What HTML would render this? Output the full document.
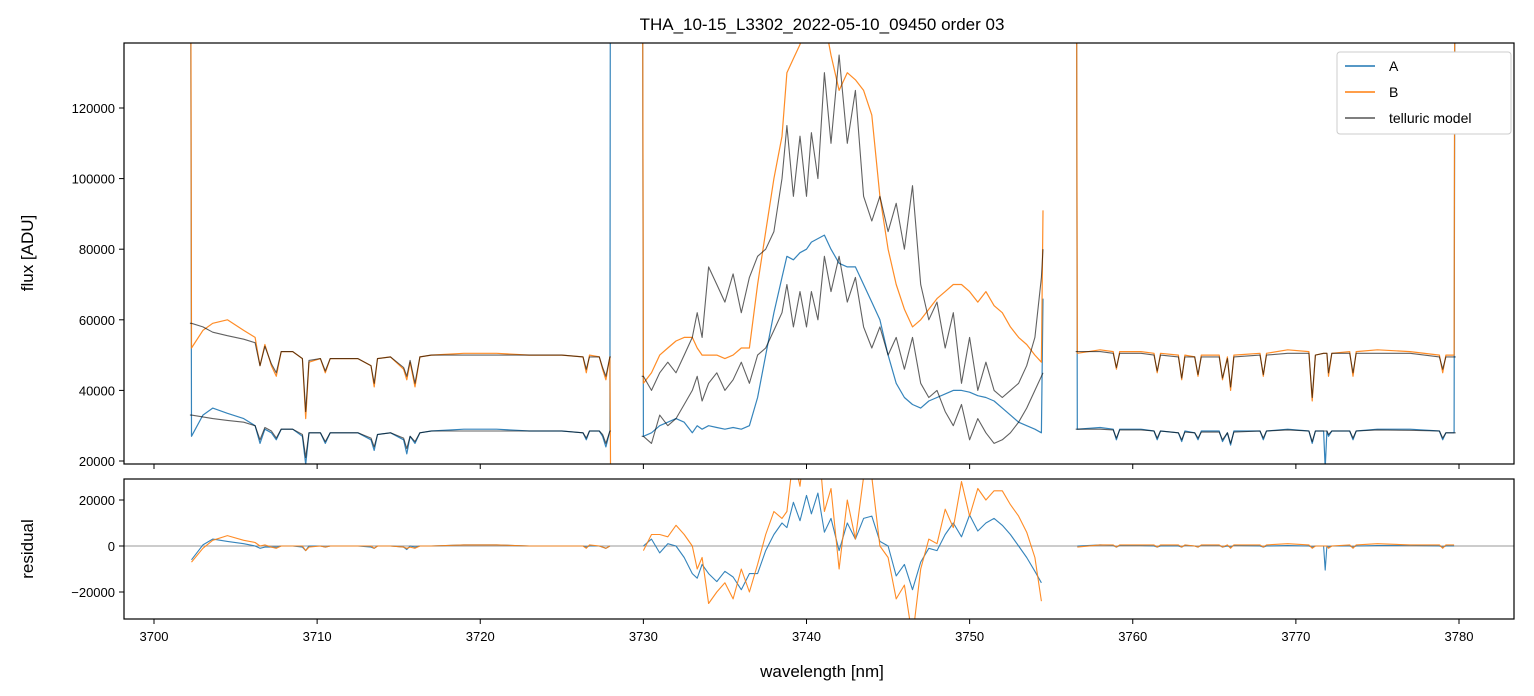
<!DOCTYPE html>
<html><head><meta charset="utf-8">
<style>
html,body{margin:0;padding:0;background:#fff;}
svg{display:block;font-family:"Liberation Sans","DejaVu Sans",sans-serif;}
</style></head>
<body>
<svg id="chart" width="1534" height="696" viewBox="0 0 1534 696" xmlns="http://www.w3.org/2000/svg">
<defs>
<clipPath id="clipTop"><rect x="124" y="43" width="1390" height="421"/></clipPath>
<clipPath id="clipBot"><rect x="124" y="479" width="1390" height="140"/></clipPath>
</defs>
<rect width="1534" height="696" fill="#fff"/>
<text x="822" y="30" font-size="17" text-anchor="middle">THA_10-15_L3302_2022-05-10_09450  order 03</text>
<g id="topPlot" clip-path="url(#clipTop)"></g>
<g id="botPlot" clip-path="url(#clipBot)"></g>
<rect x="124" y="43" width="1390" height="421" fill="none" stroke="#000" stroke-width="1.2"/>
<rect x="124" y="479" width="1390" height="140" fill="none" stroke="#000" stroke-width="1.2"/>
<g id="axes"></g>
<text x="822" y="677" font-size="17" text-anchor="middle">wavelength [nm]</text>
<text transform="translate(33,253) rotate(-90)" font-size="17" text-anchor="middle">flux [ADU]</text>
<text transform="translate(33,549) rotate(-90)" font-size="17" text-anchor="middle">residual</text>
<g>
<rect x="1337" y="52" width="174" height="82" fill="#fff" stroke="#ccc" rx="3"/>
<line x1="1345" y1="66" x2="1375" y2="66" stroke="#1f77b4" stroke-width="1.5"/>
<text x="1389" y="71" font-size="14">A</text>
<line x1="1345" y1="92" x2="1375" y2="92" stroke="#ff7f0e" stroke-width="1.5"/>
<text x="1389" y="97" font-size="14">B</text>
<line x1="1345" y1="118" x2="1375" y2="118" stroke="#555" stroke-width="1.5"/>
<text x="1389" y="123" font-size="14">telluric model</text>
</g>
</svg>
<script>
const seg1W = [3702.2,3702.3,3703,3703.6,3704.5,3705.5,3706.2,3706.5,3706.8,3707.2,3707.5,3707.8,3708.5,3709.1,3709.3,3709.5,3710.2,3710.5,3710.8,3711.5,3712.5,3713.3,3713.5,3713.7,3714.5,3715.3,3715.5,3715.7,3716,3716.3,3717,3719,3721,3723,3725,3726.3,3726.5,3726.7,3727.3,3727.5,3727.7,3727.95,3728];
const seg1A = [300000,27000,33000,35000,33500,32000,30000,25000,29000,28000,26000,29000,29000,27000,19000,28000,28000,25000,28000,28000,28000,26000,23000,27500,28000,26000,22000,27000,25000,28000,28500,29000,29000,28500,28500,28000,26000,28500,28500,27000,24000,28500,300000];
const seg1B = [300000,52000,57000,59000,60000,57000,55000,47000,53000,47000,44000,51000,51000,49000,32000,48000,49000,45000,49000,49000,49000,47000,41000,49000,49500,46000,43000,48000,41000,49500,50000,50500,50500,50000,50000,49500,45000,50000,49500,46000,43000,49500,5000];
const seg1MA = [33000,33000,32500,32000,31500,31000,30000,26000,29500,28500,26500,29000,29000,27500,21000,28000,28000,25500,28000,28000,28000,26500,24000,27500,28000,26500,23500,27000,25500,28000,28500,28500,28500,28500,28500,28000,26500,28500,28500,27500,25000,28500,28500];
const seg1MB = [59000,59000,58000,56500,55500,54500,53500,47000,52500,47500,45000,51000,51000,49000,34000,48500,49000,45500,49000,49000,49000,47000,42000,49000,49500,46500,44000,48500,42000,49500,50000,50000,50000,50000,50000,49500,46000,49500,49500,46500,44000,49500,49500];

const seg2W = [3729.9,3730,3730.5,3731,3731.5,3732,3732.5,3733,3733.3,3733.6,3734,3734.5,3735,3735.5,3736,3736.5,3737,3737.5,3738,3738.5,3738.8,3739.2,3739.6,3740,3740.3,3740.7,3741.1,3741.5,3742,3742.5,3743,3743.5,3744,3744.5,3745,3745.5,3746,3746.5,3747,3747.5,3748,3748.5,3749,3749.5,3750,3750.5,3751,3751.5,3752,3752.5,3753,3753.5,3754,3754.4,3754.5];
const seg2A = [300000,27000,28000,30000,31000,32000,31000,28000,30000,29000,30000,29500,29000,29500,29000,30000,38000,50000,62000,72000,78000,77000,79000,80000,82000,83000,84000,80000,76000,75000,75000,70000,65000,60000,50000,42000,38000,36000,35000,37000,38000,39000,40000,40000,39500,38500,38000,37000,35000,33000,31000,30000,29000,28000,66000];
const seg2B = [300000,42000,45000,50000,52000,54000,55000,55000,52000,50000,50000,50000,49000,50000,52000,52000,70000,85000,100000,112000,130000,134000,138000,145000,150000,148000,145000,135000,125000,130000,128000,125000,118000,95000,80000,70000,63000,58000,60000,63000,66000,68000,70000,70000,68000,65000,68000,64000,62000,58000,55000,53000,50000,48000,91000];
const seg2MA = [27000,27000,25000,33000,30000,32000,36000,40000,44000,37000,42000,45000,40000,43000,48000,42000,50000,52000,57000,62000,70000,58000,68000,58000,68000,60000,78000,68000,78000,65000,72000,58000,52000,58000,50000,55000,46000,55000,42000,38000,40000,34000,30000,36000,26000,32000,28000,25000,26000,28000,31000,35000,40000,44000,45000];
const seg2MB = [44000,44000,40000,45000,48000,45000,50000,55000,62000,55000,75000,70000,65000,73000,62000,72000,78000,80000,85000,100000,115000,95000,112000,95000,113000,100000,130000,110000,135000,110000,125000,95000,88000,95000,85000,93000,80000,98000,70000,60000,65000,52000,62000,42000,55000,40000,48000,40000,38000,40000,42000,47000,55000,72000,80000];

const seg3W = [3756.5,3756.6,3758,3758.8,3759,3759.2,3760.5,3761.3,3761.5,3761.7,3762.8,3763,3763.2,3763.8,3764,3764.2,3765.3,3765.5,3765.8,3766,3766.2,3767.8,3768,3768.2,3769.5,3770.8,3771,3771.2,3771.7,3771.8,3771.9,3772,3772.2,3773.3,3773.5,3773.7,3775,3777,3778.8,3779,3779.2,3779.7,3779.8];
const seg3A = [300000,29000,29500,29000,26000,29000,29000,28500,26000,28500,28000,25500,28500,28000,26000,28500,28500,25500,28000,24500,28500,28500,26000,28500,29000,28500,25000,28500,28500,18000,28500,27000,28500,28500,26000,28500,29000,29000,28500,26000,28000,28000,300000];
const seg3B = [300000,50500,51500,51000,46000,51000,51000,50500,45000,50500,50000,43000,50000,49500,44000,50000,50000,43000,49500,40000,50000,50500,44000,50500,51500,51000,37000,50000,50500,50500,50500,44000,50500,51000,44000,51000,51500,51000,50000,45000,50000,50000,300000];
const seg3MA = [29000,29000,29000,28800,26500,28800,28800,28500,26500,28500,28000,26000,28200,28000,26500,28200,28200,26000,28000,25000,28200,28500,26500,28500,28800,28500,25500,28500,28500,28500,28500,27500,28500,28500,26500,28500,28800,28700,28500,26500,28000,28000,28000];
const seg3MB = [51000,51000,51000,50500,46500,50500,50500,50000,45500,50000,49500,43500,49500,49500,44500,49500,49500,43500,49000,41000,49500,50000,44500,50000,50500,50500,38000,50000,50500,50500,50500,45000,50500,50500,45000,50500,50500,50500,49500,46000,49500,49500,49500];

const xTicks = [3700,3710,3720,3730,3740,3750,3760,3770,3780];
const yTicksTop = [20000,40000,60000,80000,100000,120000];
const yTicksBot = [-20000,0,20000];

const X0=124, X1=1514;
function xs(w){ return 154 + (w-3700)*(1459-154)/80; }
function yTop(v){ return 461 - (v-20000)*(461-108)/100000; }
function yBot(v){ return 546 - v*46/20000; }

const NS="http://www.w3.org/2000/svg";
const topG=document.getElementById('topPlot');
const botG=document.getElementById('botPlot');
const axesG=document.getElementById('axes');

function poly(parent, W, V, yf, color, width, opacity, name){
  const p=document.createElementNS(NS,'polyline');
  p.setAttribute('points', W.map((w,i)=>xs(w).toFixed(1)+','+yf(V[i]).toFixed(1)).join(' '));
  p.setAttribute('fill','none');
  p.setAttribute('stroke',color);
  p.setAttribute('stroke-width',width);
  p.setAttribute('stroke-opacity',opacity);
  p.setAttribute('stroke-linejoin','round');
  
  
  parent.appendChild(p);
}
function interp(W,V,w){
  if(w<=W[0]) return V[0];
  for(let i=1;i<W.length;i++){ if(w<=W[i]){ const t=(w-W[i-1])/(W[i]-W[i-1]); return V[i-1]+t*(V[i]-V[i-1]); } }
  return V[V.length-1];
}
function residual(W,D,M){
  const w=W.slice(1,-1), r=[];
  w.forEach(x=>r.push(interp(W,D,x)-interp(W,M,x)));
  return [w,r];
}
const segs=[[seg1W,seg1A,seg1B,seg1MA,seg1MB],[seg2W,seg2A,seg2B,seg2MA,seg2MB],[seg3W,seg3A,seg3B,seg3MA,seg3MB]];
const zl=document.createElementNS(NS,'line');
zl.setAttribute('x1',X0); zl.setAttribute('x2',X1); zl.setAttribute('y1',yBot(0)); zl.setAttribute('y2',yBot(0));
zl.setAttribute('stroke','#777'); zl.setAttribute('stroke-width','0.7');


botG.appendChild(zl);
segs.forEach((s,i)=>{
  poly(topG, s[0], s[1], yTop, '#1f77b4', 1.2, 0.9, 'flux-a-seg'+(i+1));
  poly(topG, s[0], s[2], yTop, '#ff7f0e', 1.2, 0.9, 'flux-b-seg'+(i+1));
  poly(topG, s[0], s[3], yTop, '#000', 1.1, 0.62, 'model-a-seg'+(i+1));
  poly(topG, s[0], s[4], yTop, '#000', 1.1, 0.62, 'model-b-seg'+(i+1));
  const ra=residual(s[0],s[1],s[3]);
  const rb=residual(s[0],s[2],s[4]);
  poly(botG, ra[0], ra[1], yBot, '#1f77b4', 1.1, 0.9, 'residual-a-seg'+(i+1));
  poly(botG, rb[0], rb[1], yBot, '#ff7f0e', 1.1, 0.9, 'residual-b-seg'+(i+1));
});

function tline(x1,y1,x2,y2){
  const l=document.createElementNS(NS,'line');
  l.setAttribute('x1',x1);l.setAttribute('y1',y1);l.setAttribute('x2',x2);l.setAttribute('y2',y2);
  l.setAttribute('stroke','#000');l.setAttribute('stroke-width','1');
  
  
  axesG.appendChild(l);
}
function ttext(x,y,s,anchor,name){
  const t=document.createElementNS(NS,'text');
  t.setAttribute('x',x);t.setAttribute('y',y);t.setAttribute('font-size','13');t.setAttribute('text-anchor',anchor);
  t.textContent=s;
  
  
  axesG.appendChild(t);
}
xTicks.forEach(w=>{
  const x=xs(w);
  tline(x,464,x,469); tline(x,619,x,624);
  ttext(x,641,String(w),'middle','x-tick-label');
});
yTicksTop.forEach(v=>{
  const y=yTop(v); tline(119,y,124,y); ttext(115,y+5,String(v),'end','flux-y-tick-label');
});
yTicksBot.forEach(v=>{
  const y=yBot(v); tline(119,y,124,y); ttext(115,y+5,v<0?'\u2212'+Math.abs(v):String(v),'end','residual-y-tick-label');
});
</script>
</body></html>
